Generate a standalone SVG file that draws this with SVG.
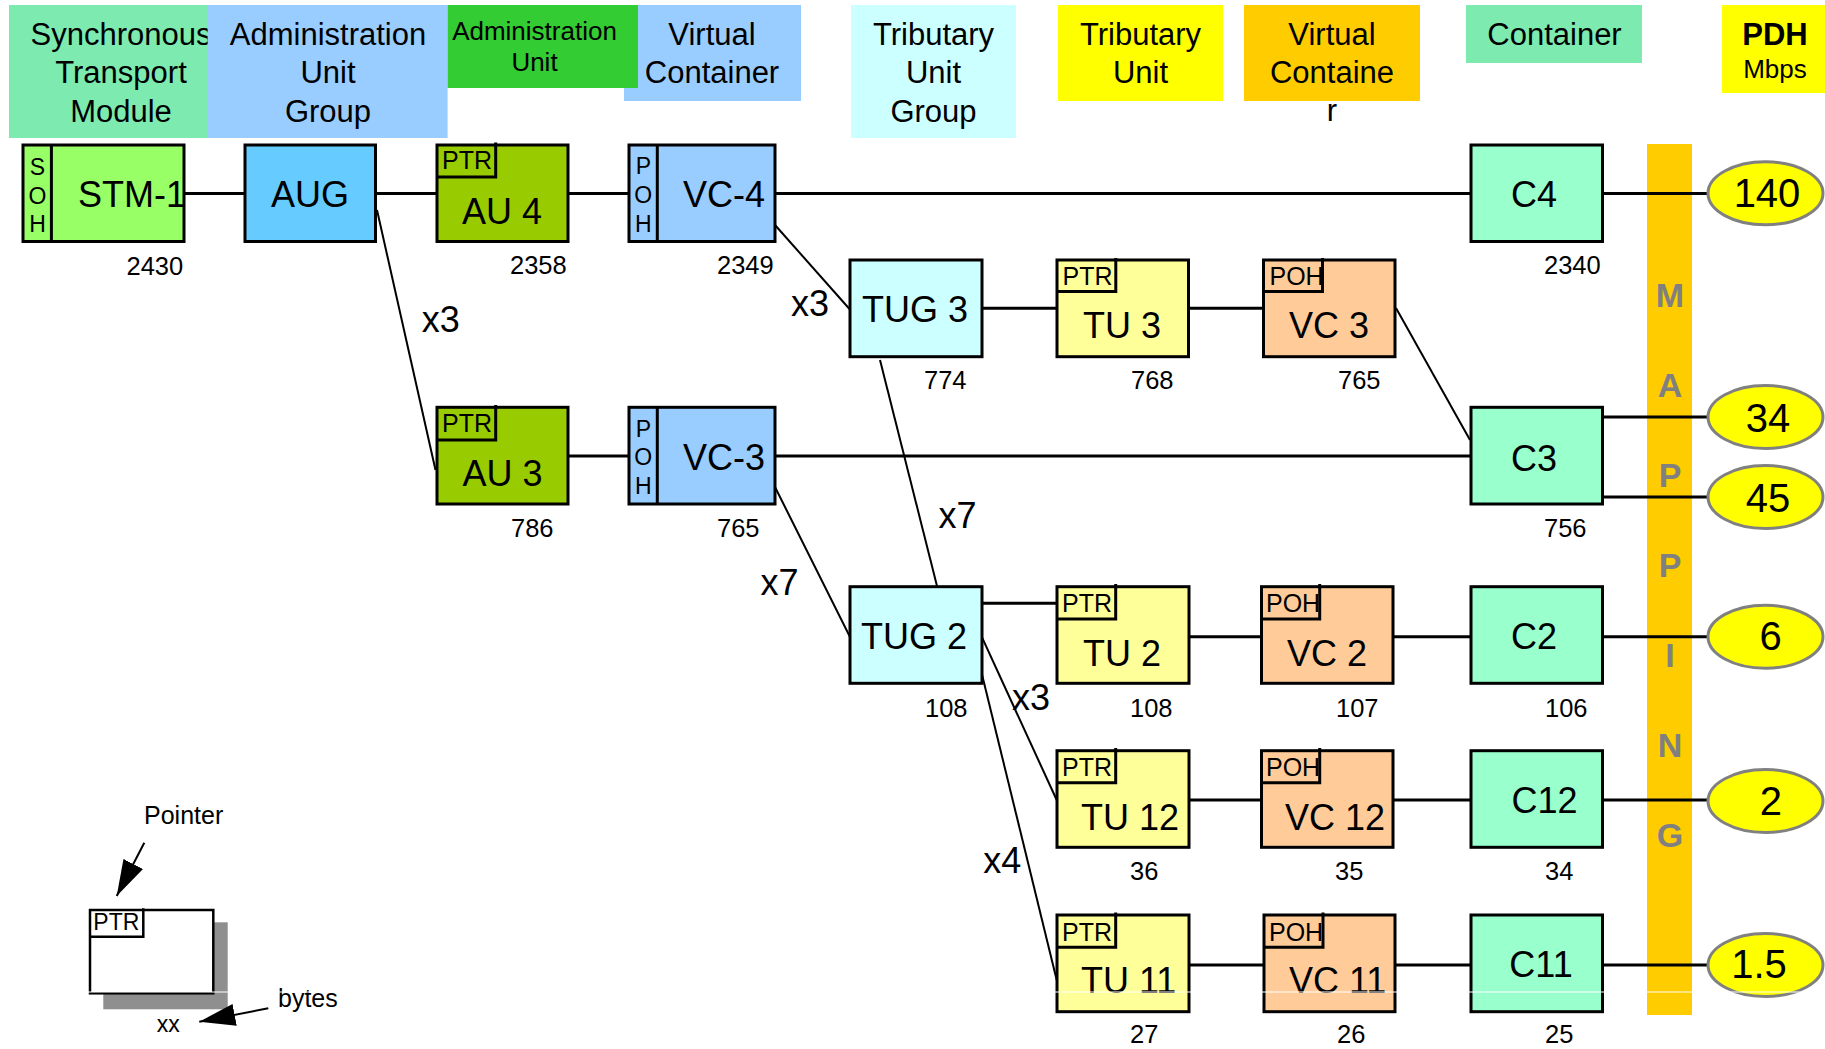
<svg xmlns="http://www.w3.org/2000/svg" width="1825" height="1049" viewBox="0 0 1825 1049">
  <defs>
    <style>
      text { font-family: "Liberation Sans", Arial, Helvetica, sans-serif; fill: #000; }
      .hd { font-size: 31px; text-anchor: middle; }
      .hds { font-size: 26px; text-anchor: middle; }
      .box { stroke: #000; stroke-width: 3; }
      .sub { fill: none; stroke: #000; stroke-width: 3; }
      .lbl { font-size: 36px; }
      .mid { text-anchor: middle; }
      .num { font-size: 25.5px; }
      .tag { font-size: 25px; }
      .vl { font-size: 23px; text-anchor: middle; }
      .mul { font-size: 36px; }
      .rate { font-size: 40px; text-anchor: middle; }
      .map { font-size: 34px; font-weight: bold; fill: #808080; text-anchor: middle; }
      .stm { fill: #99FF66; }
      .aug { fill: #66CCFF; }
      .au { fill: #99CC00; }
      .vch { fill: #99CCFF; }
      .tug { fill: #CCFFFF; }
      .tu { fill: #FFFF99; }
      .vcl { fill: #FFCC99; }
      .c { fill: #99FFCC; }
      .pdh { fill: #FFFF00; stroke: #808080; stroke-width: 3; }
      .h { stroke: #000; stroke-width: 3; fill: none; }
      .d { stroke: #000; stroke-width: 2; fill: none; }
    </style>
    <marker id="head" viewBox="0 0 36 22" refX="36" refY="11" markerWidth="36" markerHeight="22" markerUnits="userSpaceOnUse" orient="auto">
      <path d="M0,0 L36,11 L0,22 z" fill="#000"/>
    </marker>
  </defs>

  <rect width="1825" height="1049" fill="#fff"/>

  <!-- column headings -->
  <g id="headings">
    <rect x="9" y="5" width="202" height="133" fill="#7DEBB0"/>
    <text class="hd" x="121" y="45">Synchronous</text>
    <text class="hd" x="121" y="83">Transport</text>
    <text class="hd" x="121" y="122">Module</text>

    <rect x="207.6" y="5" width="240" height="133" fill="#99CCFF"/>
    <text class="hd" x="328" y="45">Administration</text>
    <text class="hd" x="328" y="83">Unit</text>
    <text class="hd" x="328" y="122">Group</text>

    <rect x="624" y="5" width="177" height="96" fill="#99CCFF"/>
    <text class="hd" x="712" y="45">Virtual</text>
    <text class="hd" x="712" y="83">Container</text>

    <rect x="447.6" y="5" width="190.4" height="83" fill="#33CC33"/>
    <text class="hds" x="534.5" y="40">Administration</text>
    <text class="hds" x="534.5" y="71">Unit</text>

    <rect x="851" y="5" width="165" height="133" fill="#CCFFFF"/>
    <text class="hd" x="933.5" y="45">Tributary</text>
    <text class="hd" x="933.5" y="83">Unit</text>
    <text class="hd" x="933.5" y="122">Group</text>

    <rect x="1058" y="5" width="165" height="96" fill="#FFFF00"/>
    <text class="hd" x="1140.5" y="45">Tributary</text>
    <text class="hd" x="1140.5" y="83">Unit</text>

    <rect x="1244" y="5" width="176" height="96" fill="#FFCC00"/>
    <text class="hd" x="1332" y="45">Virtual</text>
    <text class="hd" x="1332" y="83">Containe</text>
    <text class="hd" x="1332" y="121">r</text>

    <rect x="1466" y="5" width="176" height="58" fill="#7DEBB0"/>
    <text class="hd" x="1554.5" y="45">Container</text>

    <rect x="1722" y="5" width="103" height="88" fill="#FFFF00"/>
    <text class="hd" x="1775" y="45" font-weight="bold">PDH</text>
    <text class="hds" x="1775" y="78">Mbps</text>
  </g>

  <!-- mapping band -->
  <g id="mapping">
    <rect x="1647" y="144" width="45" height="871" fill="#FFCC00"/>
    <text class="map" x="1670" y="307">M</text>
    <text class="map" x="1670" y="397">A</text>
    <text class="map" x="1670" y="487">P</text>
    <text class="map" x="1670" y="577">P</text>
    <text class="map" x="1670" y="667">I</text>
    <text class="map" x="1670" y="757">N</text>
    <text class="map" x="1670" y="847">G</text>
  </g>

  <!-- connectors -->
  <g id="connectors">
    <line class="h" x1="184" y1="193.5" x2="245" y2="193.5"/>
    <line class="h" x1="375.5" y1="193.5" x2="437" y2="193.5"/>
    <line class="h" x1="568" y1="193.5" x2="629" y2="193.5"/>
    <line class="h" x1="775" y1="193.5" x2="1471" y2="193.5"/>
    <line class="h" x1="1602.5" y1="193.5" x2="1708" y2="193.5"/>
    <line class="h" x1="568" y1="456" x2="629" y2="456"/>
    <line class="h" x1="775" y1="456" x2="1471" y2="456"/>
    <line class="h" x1="1602.5" y1="417" x2="1708" y2="417"/>
    <line class="h" x1="1602.5" y1="497" x2="1708" y2="497"/>
    <line class="h" x1="982" y1="308.3" x2="1057" y2="308.3"/>
    <line class="h" x1="1188.5" y1="308.3" x2="1263.5" y2="308.3"/>
    <line class="h" x1="982" y1="603.3" x2="1057" y2="603.3"/>
    <line class="h" x1="1189" y1="636.7" x2="1261.5" y2="636.7"/>
    <line class="h" x1="1393" y1="636.7" x2="1471" y2="636.7"/>
    <line class="h" x1="1602.5" y1="636.7" x2="1708" y2="636.7"/>
    <line class="h" x1="1189" y1="800" x2="1261.5" y2="800"/>
    <line class="h" x1="1393" y1="800" x2="1471" y2="800"/>
    <line class="h" x1="1602.5" y1="800" x2="1708" y2="800"/>
    <line class="h" x1="1189" y1="965" x2="1264" y2="965"/>
    <line class="h" x1="1395" y1="965" x2="1471" y2="965"/>
    <line class="h" x1="1602.5" y1="965" x2="1708" y2="965"/>

    <line class="d" x1="377" y1="210" x2="435.5" y2="470"/>
    <line class="d" x1="775" y1="225" x2="849.5" y2="309"/>
    <line class="d" x1="1396" y1="308" x2="1470" y2="440"/>
    <line class="d" x1="880" y1="360" x2="937" y2="586"/>
    <line class="d" x1="775" y1="487" x2="850" y2="637"/>
    <line class="d" x1="981.7" y1="636.7" x2="1056.7" y2="800"/>
    <line class="d" x1="981.7" y1="673.3" x2="1056.7" y2="980"/>

    <text class="mul" x="421.7" y="331.7">x3</text>
    <text class="mul" x="791" y="316">x3</text>
    <text class="mul" x="938.6" y="528.3">x7</text>
    <text class="mul" x="760.5" y="595">x7</text>
    <text class="mul" x="1012" y="710">x3</text>
    <text class="mul" x="983.3" y="873.3">x4</text>
  </g>

  <!-- row 1 -->
  <g id="stm1">
    <rect class="box stm" x="23" y="145" width="161" height="96.5"/>
    <line class="sub" x1="51.4" y1="145" x2="51.4" y2="241.5"/>
    <text class="vl" x="37.5" y="175">S</text>
    <text class="vl" x="37.5" y="203.5">O</text>
    <text class="vl" x="37.5" y="232">H</text>
    <text class="lbl" x="78" y="207">STM-1</text>
    <text class="num" x="126.5" y="275">2430</text>
  </g>
  <g id="aug">
    <rect class="box aug" x="245" y="145" width="130.5" height="96.5"/>
    <text class="lbl mid" x="310" y="207">AUG</text>
  </g>
  <g id="au4">
    <rect class="box au" x="437" y="145" width="131" height="96.5"/>
    <path class="sub" d="M495.7,142.5 V177 H437"/>
    <text class="tag" x="442" y="169">PTR</text>
    <text class="lbl mid" x="502" y="224">AU 4</text>
    <text class="num" x="510" y="274">2358</text>
  </g>
  <g id="vc4">
    <rect class="box vch" x="629" y="145" width="146" height="96.5"/>
    <line class="sub" x1="657.3" y1="145" x2="657.3" y2="241.5"/>
    <text class="vl" x="643.3" y="174">P</text>
    <text class="vl" x="643.3" y="203">O</text>
    <text class="vl" x="643.3" y="232">H</text>
    <text class="lbl" x="683" y="207">VC-4</text>
    <text class="num" x="717" y="274">2349</text>
  </g>
  <g id="c4">
    <rect class="box c" x="1471" y="145" width="131.5" height="96.5"/>
    <text class="lbl mid" x="1534" y="207">C4</text>
    <text class="num" x="1544" y="274">2340</text>
  </g>

  <!-- row 2 -->
  <g id="tug3">
    <rect class="box tug" x="850" y="260" width="132" height="96.7"/>
    <text class="lbl mid" x="915" y="322">TUG 3</text>
    <text class="num" x="924" y="389.3">774</text>
  </g>
  <g id="tu3">
    <rect class="box tu" x="1057" y="260" width="131.5" height="96.7"/>
    <path class="sub" d="M1115.8,258 V291.5 H1057"/>
    <text class="tag" x="1062.5" y="285">PTR</text>
    <text class="lbl mid" x="1122" y="338.3">TU 3</text>
    <text class="num" x="1131" y="389.3">768</text>
  </g>
  <g id="vc3">
    <rect class="box vcl" x="1263.5" y="260" width="131.5" height="96.7"/>
    <path class="sub" d="M1322.5,258 V291.5 H1263.5"/>
    <text class="tag" x="1269.5" y="285">POH</text>
    <text class="lbl mid" x="1329" y="338.3">VC 3</text>
    <text class="num" x="1338" y="389.3">765</text>
  </g>

  <!-- row 3 -->
  <g id="au3">
    <rect class="box au" x="437" y="407.3" width="131" height="96.7"/>
    <path class="sub" d="M495.7,405 V440 H437"/>
    <text class="tag" x="442" y="431.7">PTR</text>
    <text class="lbl mid" x="502.5" y="486">AU 3</text>
    <text class="num" x="511" y="537.3">786</text>
  </g>
  <g id="vc3h">
    <rect class="box vch" x="629" y="407.3" width="146" height="96.7"/>
    <line class="sub" x1="657.3" y1="407.3" x2="657.3" y2="504"/>
    <text class="vl" x="643.3" y="436.5">P</text>
    <text class="vl" x="643.3" y="465">O</text>
    <text class="vl" x="643.3" y="494">H</text>
    <text class="lbl" x="683" y="470">VC-3</text>
    <text class="num" x="717" y="537.3">765</text>
  </g>
  <g id="c3">
    <rect class="box c" x="1471" y="407.3" width="131.5" height="96.7"/>
    <text class="lbl mid" x="1534" y="470.7">C3</text>
    <text class="num" x="1544" y="537.3">756</text>
  </g>

  <!-- row 4 -->
  <g id="tug2">
    <rect class="box tug" x="850" y="586.7" width="132" height="96.6"/>
    <text class="lbl mid" x="914" y="649.3">TUG 2</text>
    <text class="num" x="925" y="716.7">108</text>
  </g>
  <g id="tu2">
    <rect class="box tu" x="1057" y="586.7" width="132" height="96.6"/>
    <path class="sub" d="M1115.7,584 V619 H1057"/>
    <text class="tag" x="1062" y="611.7">PTR</text>
    <text class="lbl mid" x="1122" y="666">TU 2</text>
    <text class="num" x="1130" y="716.7">108</text>
  </g>
  <g id="vc2">
    <rect class="box vcl" x="1261.5" y="586.7" width="131.5" height="96.6"/>
    <path class="sub" d="M1319.7,584 V619 H1261.5"/>
    <text class="tag" x="1266" y="611.7">POH</text>
    <text class="lbl mid" x="1327" y="666">VC 2</text>
    <text class="num" x="1336" y="716.7">107</text>
  </g>
  <g id="c2">
    <rect class="box c" x="1471" y="586.7" width="131.5" height="96.6"/>
    <text class="lbl mid" x="1534" y="649.3">C2</text>
    <text class="num" x="1545" y="716.7">106</text>
  </g>

  <!-- row 5 -->
  <g id="tu12">
    <rect class="box tu" x="1057" y="750.7" width="132" height="96.6"/>
    <path class="sub" d="M1115.7,748 V782.7 H1057"/>
    <text class="tag" x="1062" y="776">PTR</text>
    <text class="lbl" x="1081" y="830">TU 12</text>
    <text class="num" x="1130" y="880">36</text>
  </g>
  <g id="vc12">
    <rect class="box vcl" x="1261.5" y="750.7" width="131.5" height="96.6"/>
    <path class="sub" d="M1319.7,748 V782.7 H1261.5"/>
    <text class="tag" x="1266" y="776">POH</text>
    <text class="lbl" x="1285" y="830">VC 12</text>
    <text class="num" x="1335" y="880">35</text>
  </g>
  <g id="c12">
    <rect class="box c" x="1471" y="750.7" width="131.5" height="96.6"/>
    <text class="lbl mid" x="1544.5" y="813.3">C12</text>
    <text class="num" x="1545" y="880">34</text>
  </g>

  <!-- row 6 -->
  <g id="tu11">
    <rect class="box tu" x="1057" y="915" width="132" height="96.7"/>
    <path class="sub" d="M1115.7,912.5 V947.3 H1057"/>
    <text class="tag" x="1062" y="940.5">PTR</text>
    <text class="lbl" x="1081" y="993.3">TU 11</text>
    <text class="num" x="1130" y="1043.3">27</text>
  </g>
  <g id="vc11">
    <rect class="box vcl" x="1264" y="915" width="131" height="96.7"/>
    <path class="sub" d="M1323,912.5 V947.3 H1264"/>
    <text class="tag" x="1269" y="940.5">POH</text>
    <text class="lbl" x="1289" y="993.3">VC 11</text>
    <text class="num" x="1337" y="1043.3">26</text>
  </g>
  <g id="c11">
    <rect class="box c" x="1471" y="915" width="131.5" height="96.7"/>
    <text class="lbl mid" x="1541" y="976.7">C11</text>
    <text class="num" x="1545" y="1043.3">25</text>
  </g>

  <!-- PDH rates -->
  <g id="pdh140">
    <ellipse class="pdh" cx="1765.5" cy="193.3" rx="57.5" ry="31.5"/>
    <text class="rate" x="1767" y="207.3">140</text>
  </g>
  <g id="pdh34">
    <ellipse class="pdh" cx="1765.5" cy="417" rx="57.5" ry="31.5"/>
    <text class="rate" x="1768" y="431.7">34</text>
  </g>
  <g id="pdh45">
    <ellipse class="pdh" cx="1765.5" cy="497" rx="57.5" ry="31.5"/>
    <text class="rate" x="1768" y="511.7">45</text>
  </g>
  <g id="pdh6">
    <ellipse class="pdh" cx="1765.5" cy="636.7" rx="57.5" ry="31.5"/>
    <text class="rate" x="1770.7" y="650">6</text>
  </g>
  <g id="pdh2">
    <ellipse class="pdh" cx="1765.5" cy="801" rx="57.5" ry="31.5"/>
    <text class="rate" x="1770.8" y="815">2</text>
  </g>
  <g id="pdh15">
    <ellipse class="pdh" cx="1765.5" cy="965" rx="57.5" ry="31.5"/>
    <text class="rate" x="1759" y="978.3">1.5</text>
  </g>

  <!-- key -->
  <g id="legend">
    <rect x="103.3" y="922.3" width="124.4" height="87" fill="#8F8F8F"/>
    <rect x="90" y="910" width="123.3" height="83.3" fill="#fff" stroke="#000" stroke-width="2.5"/>
    <path d="M143.3,908.3 V938 M90,936.7 H143.3" fill="none" stroke="#000" stroke-width="2.5"/>
    <text x="93.3" y="930" font-size="23px">PTR</text>
    <text x="144" y="824" font-size="25px">Pointer</text>
    <line x1="144.3" y1="842.7" x2="116.7" y2="896" stroke="#000" stroke-width="2" marker-end="url(#head)"/>
    <text x="278" y="1006.7" font-size="25px">bytes</text>
    <line x1="268.3" y1="1008.3" x2="199.3" y2="1021.7" stroke="#000" stroke-width="2" marker-end="url(#head)"/>
    <text x="156.7" y="1031.7" font-size="23px">xx</text>
  </g>

  <!-- thin white seam across the lower row -->
  <line x1="0" y1="992" x2="1825" y2="992" stroke="#fff" stroke-width="1"/>
</svg>
